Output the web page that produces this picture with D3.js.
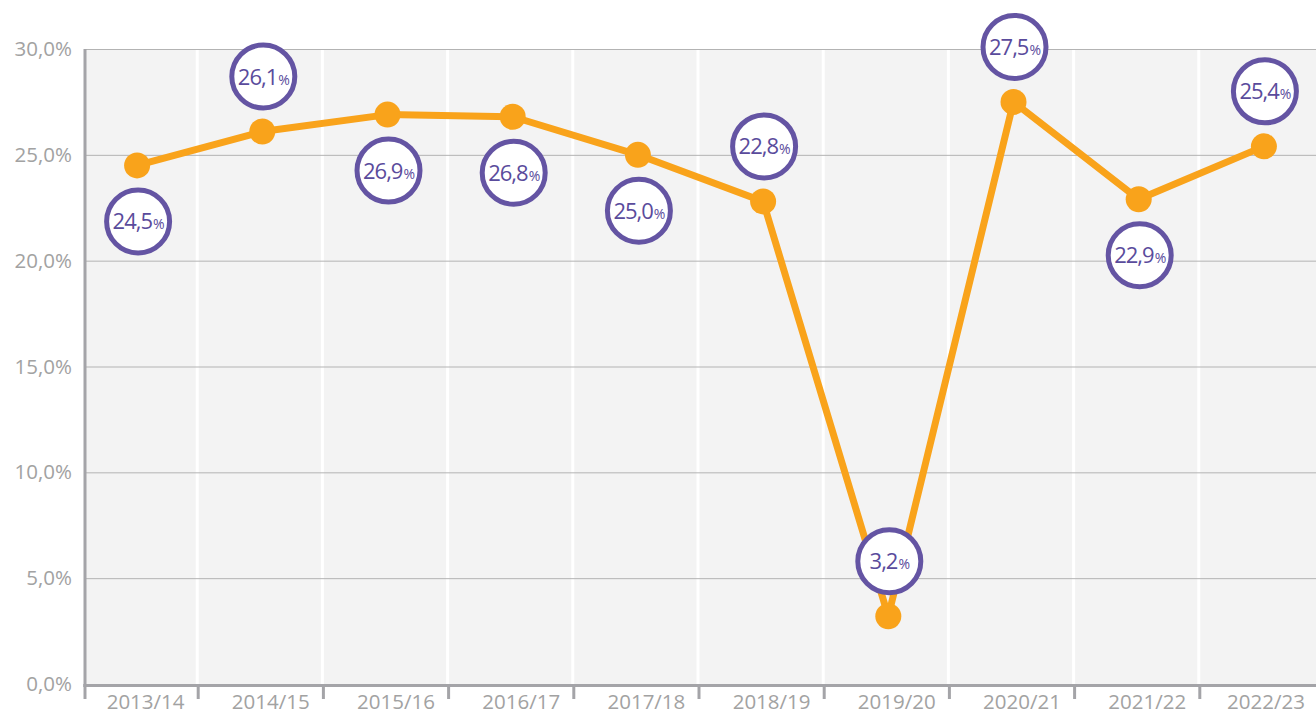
<!DOCTYPE html>
<html>
<head>
<meta charset="utf-8">
<script src="https://cdn.jsdelivr.net/npm/d3@7"></script>
<style>
  html, body { margin: 0; padding: 0; background: #fff; }
  svg { display: block; }
</style>
</head>
<body>
<svg id="chart" width="1316" height="716"></svg>
<script>
// Seasons along the x axis
const seasons = ["2013/14", "2014/15", "2015/16", "2016/17", "2017/18",
                 "2018/19", "2019/20", "2020/21", "2021/22", "2022/23"];
// Share per season, in percent
const shares = [24.5, 26.1, 26.9, 26.8, 25.0, 22.8, 3.2, 27.5, 22.9, 25.4];
// Where each value badge sits relative to its point
const badgeSide = ["below", "above", "below", "below", "below",
                   "above", "above", "above", "below", "above"];
// Y axis ticks
const yTicks = [0, 5, 10, 15, 20, 25, 30];

const svg = d3.select("#chart");
const W = 1316, H = 716;
const plot = { left: 85, right: 1316, top: 49, bottom: 684 };

const fmt = v => v.toFixed(1).replace(".", ",");

const x = d3.scaleBand().domain(seasons).range([72, 1324]).paddingInner(0).paddingOuter(0);
const xc = d => x(d) + x.bandwidth() * 0.52;
const y = d3.scaleLinear().domain([0, 30]).range([plot.bottom, plot.top]);

// Plot background
svg.append("rect")
  .attr("x", plot.left).attr("y", plot.top)
  .attr("width", plot.right - plot.left).attr("height", plot.bottom - plot.top)
  .attr("fill", "#f3f3f3");

// Vertical separators between seasons
svg.append("g").selectAll("line")
  .data(seasons.slice(1))
  .join("line")
  .attr("x1", d => x(d)).attr("x2", d => x(d))
  .attr("y1", plot.top).attr("y2", plot.bottom)
  .attr("stroke", "#ffffff").attr("stroke-width", 3);

// Horizontal grid
svg.append("g").selectAll("line")
  .data(yTicks.slice(1))
  .join("line")
  .attr("x1", plot.left).attr("x2", plot.right)
  .attr("y1", d => y(d) + 0.5).attr("y2", d => y(d) + 0.5)
  .attr("stroke", "#b3b3b3").attr("stroke-width", 1);

// Y axis labels
const yAxis = d3.axisLeft(y).tickValues(yTicks).tickSize(0).tickPadding(13)
  .tickFormat(d => fmt(d) + "%");
const gy = svg.append("g").attr("transform", `translate(${plot.left},0)`).call(yAxis);
gy.select(".domain").remove();
gy.selectAll("text")
  .attr("fill", "#a2a2a2")
  .style("font-family", "'Open Sans', sans-serif")
  .style("font-size", "20.5px");

// Left axis line
svg.append("line")
  .attr("x1", plot.left).attr("x2", plot.left)
  .attr("y1", plot.top).attr("y2", plot.bottom + 3)
  .attr("stroke", "#a4a4a8").attr("stroke-width", 3);

// Bottom axis with ticks at season boundaries
svg.append("line")
  .attr("x1", plot.left - 1.5).attr("x2", plot.right)
  .attr("y1", plot.bottom + 1.5).attr("y2", plot.bottom + 1.5)
  .attr("stroke", "#a4a4a8").attr("stroke-width", 3);
const boundaries = [plot.left].concat(seasons.slice(1).map(s => x(s) + 1));
svg.append("g").selectAll("line")
  .data(boundaries)
  .join("line")
  .attr("x1", d => d).attr("x2", d => d)
  .attr("y1", plot.bottom).attr("y2", plot.bottom + 15)
  .attr("stroke", "#a4a4a8").attr("stroke-width", 3);

// X labels
svg.append("g").selectAll("text")
  .data(seasons)
  .join("text")
  .attr("x", d => Math.min(x(d) + x.bandwidth() / 2 + 11, W - 50))
  .attr("y", 709)
  .attr("text-anchor", "middle")
  .attr("fill", "#a2a2a2")
  .style("font-family", "'Open Sans', sans-serif")
  .style("font-size", "20.5px")
  .text(d => d);

// Line
const data = seasons.map((s, i) => ({ season: s, v: shares[i], side: badgeSide[i] }));
const line = d3.line().x(d => xc(d.season)).y(d => y(d.v));
svg.append("path")
  .datum(data)
  .attr("d", line)
  .attr("fill", "none")
  .attr("stroke", "#f9a31b")
  .attr("stroke-width", 7)
  .attr("stroke-linejoin", "round");

// Points
svg.append("g").selectAll("circle")
  .data(data)
  .join("circle")
  .attr("cx", d => xc(d.season))
  .attr("cy", d => y(d.v))
  .attr("r", 13)
  .attr("fill", "#f9a31b");

// Value badges
const badges = svg.append("g").selectAll("g")
  .data(data)
  .join("g")
  .attr("transform", d => `translate(${xc(d.season) + 1},${y(d.v) + (d.side === "above" ? -55 : 56)})`);
badges.append("circle")
  .attr("r", 31.5)
  .attr("fill", "#ffffff")
  .attr("stroke", "#6454a3")
  .attr("stroke-width", 5);
const t = badges.append("text")
  .attr("text-anchor", "middle")
  .attr("y", 8)
  .attr("fill", "#5a4b9c")
  .style("font-family", "'Liberation Sans Narrow', 'Open Sans', sans-serif")
  .style("letter-spacing", "-1px");
t.append("tspan").style("font-size", "22px").text(d => fmt(d.v));
t.append("tspan").style("font-size", "14px").attr("dx", 1).text("%");
</script>
</body>
</html>
